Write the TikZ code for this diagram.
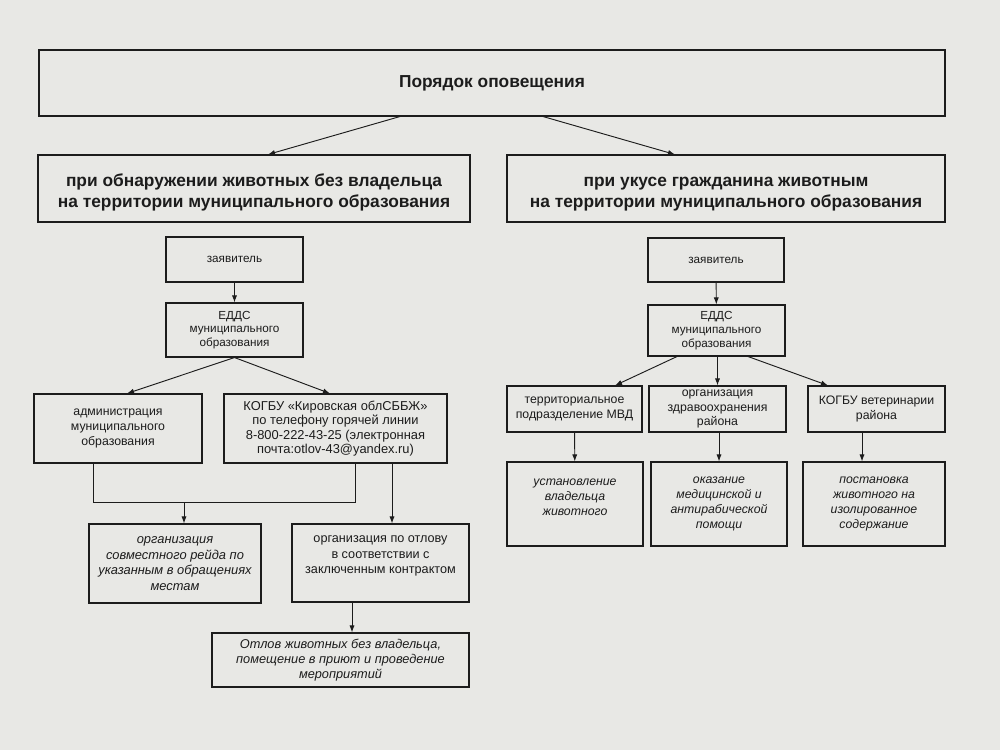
\documentclass[tikz,border=0pt]{standalone}
\usepackage{fontspec}
\setmainfont{Liberation Sans}
\usetikzlibrary{arrows.meta}
\definecolor{paper}{RGB}{232,232,229}
\definecolor{ink}{RGB}{28,28,28}
\tikzset{
    box/.style={draw=ink, text=ink, line width=0.9pt, align=center, inner sep=0pt},
    wh/.style 2 args={minimum width=#1*0.03cm, minimum height=#2*0.03cm},
    head/.style={box, font=\bfseries\fontsize{14.8}{18.6}\selectfont},
    small/.style={box, font=\fontsize{10}{11.8}\selectfont},
    mid/.style={box, font=\fontsize{10.5}{12.6}\selectfont},
    res/.style={box, font=\itshape\fontsize{10.5}{13}\selectfont},
}
\begin{document}
\begin{tikzpicture}[
    every edge/.style={draw=ink, line width=0.8pt},
    >={Latex[length=6pt,width=4.4pt]}]
    \def\x{0.03}
    \def\y{-0.03}
    \fill[paper] (0,0) rectangle (1000*\x, 750*\y);
    \useasboundingbox (0,0) rectangle (1000*\x, 750*\y);
    % top
    \node[head, wh={906}{66}] (top) at (492*\x, 83*\y) {Порядок оповещения};
    \node[head, wh={432}{67}, text height=36pt] (hL) at (254*\x, 188.5*\y) {при обнаружении животных без владельца\\на территории муниципального образования};
    \node[head, wh={438}{67}, text height=36pt] (hR) at (726*\x, 188.5*\y) {при укусе гражданина животным\\на территории муниципального образования};
    % left branch
    \node[small, wh={137}{45}] (zL) at (234.5*\x, 259.5*\y) {заявитель};
    \node[small, wh={137}{54}] (eL) at (234.5*\x, 330*\y) {ЕДДС\\муниципального\\образования};
    \node[mid, wh={168}{69}] (adm) at (118*\x, 428.5*\y) {администрация\\муниципального\\образования};
    \node[mid, wh={223}{69}, font=\fontsize{11}{12.3}\selectfont] (kog) at (335.5*\x, 428.5*\y) {КОГБУ «Кировская облСББЖ»\\по телефону горячей линии\\8-800-222-43-25 (электронная\\почта:otlov-43@yandex.ru)};
    \node[res, wh={172}{79}, font=\itshape\fontsize{11}{13.3}\selectfont] (rejd) at (175*\x, 563.5*\y) {организация\\совместного рейда по\\указанным в обращениях\\местам};
    \node[mid, wh={177}{78}, text depth=14pt, font=\fontsize{10.8}{13}\selectfont] (otlovu) at (380.5*\x, 563*\y) {организация по отлову\\в соответствии с\\заключенным контрактом};
    \node[res, wh={257}{54}, font=\itshape\fontsize{10.9}{13}\selectfont] (otlov) at (340.5*\x, 660*\y) {Отлов животных без владельца,\\помещение в приют и проведение\\мероприятий};
    % right branch
    \node[small, wh={136}{44}] (zR) at (716*\x, 260*\y) {заявитель};
    \node[small, wh={137}{51}] (eR) at (716.5*\x, 330.5*\y) {ЕДДС\\муниципального\\образования};
    \node[mid, wh={135}{46}] (mvd) at (574.5*\x, 409*\y) {территориальное\\подразделение МВД};
    \node[mid, wh={137}{46}] (zdr) at (717.5*\x, 409*\y) {организация\\здравоохранения\\района};
    \node[mid, wh={137}{46}] (vet) at (876.5*\x, 409*\y) {КОГБУ ветеринарии\\района};
    \node[res, wh={136}{84}, text depth=12pt] (ust) at (575*\x, 504*\y) {установление\\владельца\\животного};
    \node[res, wh={136}{84}] (okaz) at (719*\x, 504*\y) {оказание\\медицинской и\\антирабической\\помощи};
    \node[res, wh={142}{84}] (post) at (874*\x, 504*\y) {постановка\\животного на\\изолированное\\содержание};
    % connector x positions
    \coordinate (t1) at (400*\x, 0);
    \coordinate (t2) at (268*\x, 0);
    \coordinate (t3) at (543*\x, 0);
    \coordinate (t4) at (675*\x, 0);
    \coordinate (a1) at (127*\x, 0);
    \coordinate (a2) at (330*\x, 0);
    \coordinate (jL) at (93*\x, 502*\y);
    \coordinate (jM) at (184*\x, 502*\y);
    \coordinate (jR) at (355*\x, 502*\y);
    \coordinate (k2) at (392*\x, 0);
    \coordinate (o1) at (352*\x, 0);
    \coordinate (b1) at (677*\x, 0);
    \coordinate (b2) at (615*\x, 0);
    \coordinate (b3) at (748*\x, 0);
    \coordinate (b4) at (828*\x, 0);
    \coordinate (v3) at (862*\x, 0);
    \path (top.south -| t1) edge [->] (hL.north -| t2);
    \path (top.south -| t3) edge [->] (hR.north -| t4);
    \path (zL) edge [->] (eL);
    \path (eL.south) edge [->] (adm.north -| a1);
    \path (eL.south) edge [->] (kog.north -| a2);
    \draw[draw=ink, line width=0.8pt] (adm.south -| jL) -- (jL) -- (jR) -- (kog.south -| jR);
    \path (jM) edge [->] (rejd.north -| jM);
    \path (kog.south -| k2) edge [->] (otlovu.north -| k2);
    \path (otlovu.south -| o1) edge [->] (otlov.north -| o1);
    \path (zR) edge [->] (eR);
    \path (eR.south -| b1) edge [->] (mvd.north -| b2);
    \path (eR.south -| zdr) edge [->] (zdr);
    \path (eR.south -| b3) edge [->] (vet.north -| b4);
    \path (mvd) edge [->] (ust);
    \path (zdr.south -| okaz) edge [->] (okaz);
    \path (vet.south -| v3) edge [->] (post.north -| v3);
  \end{tikzpicture}
\end{document}
